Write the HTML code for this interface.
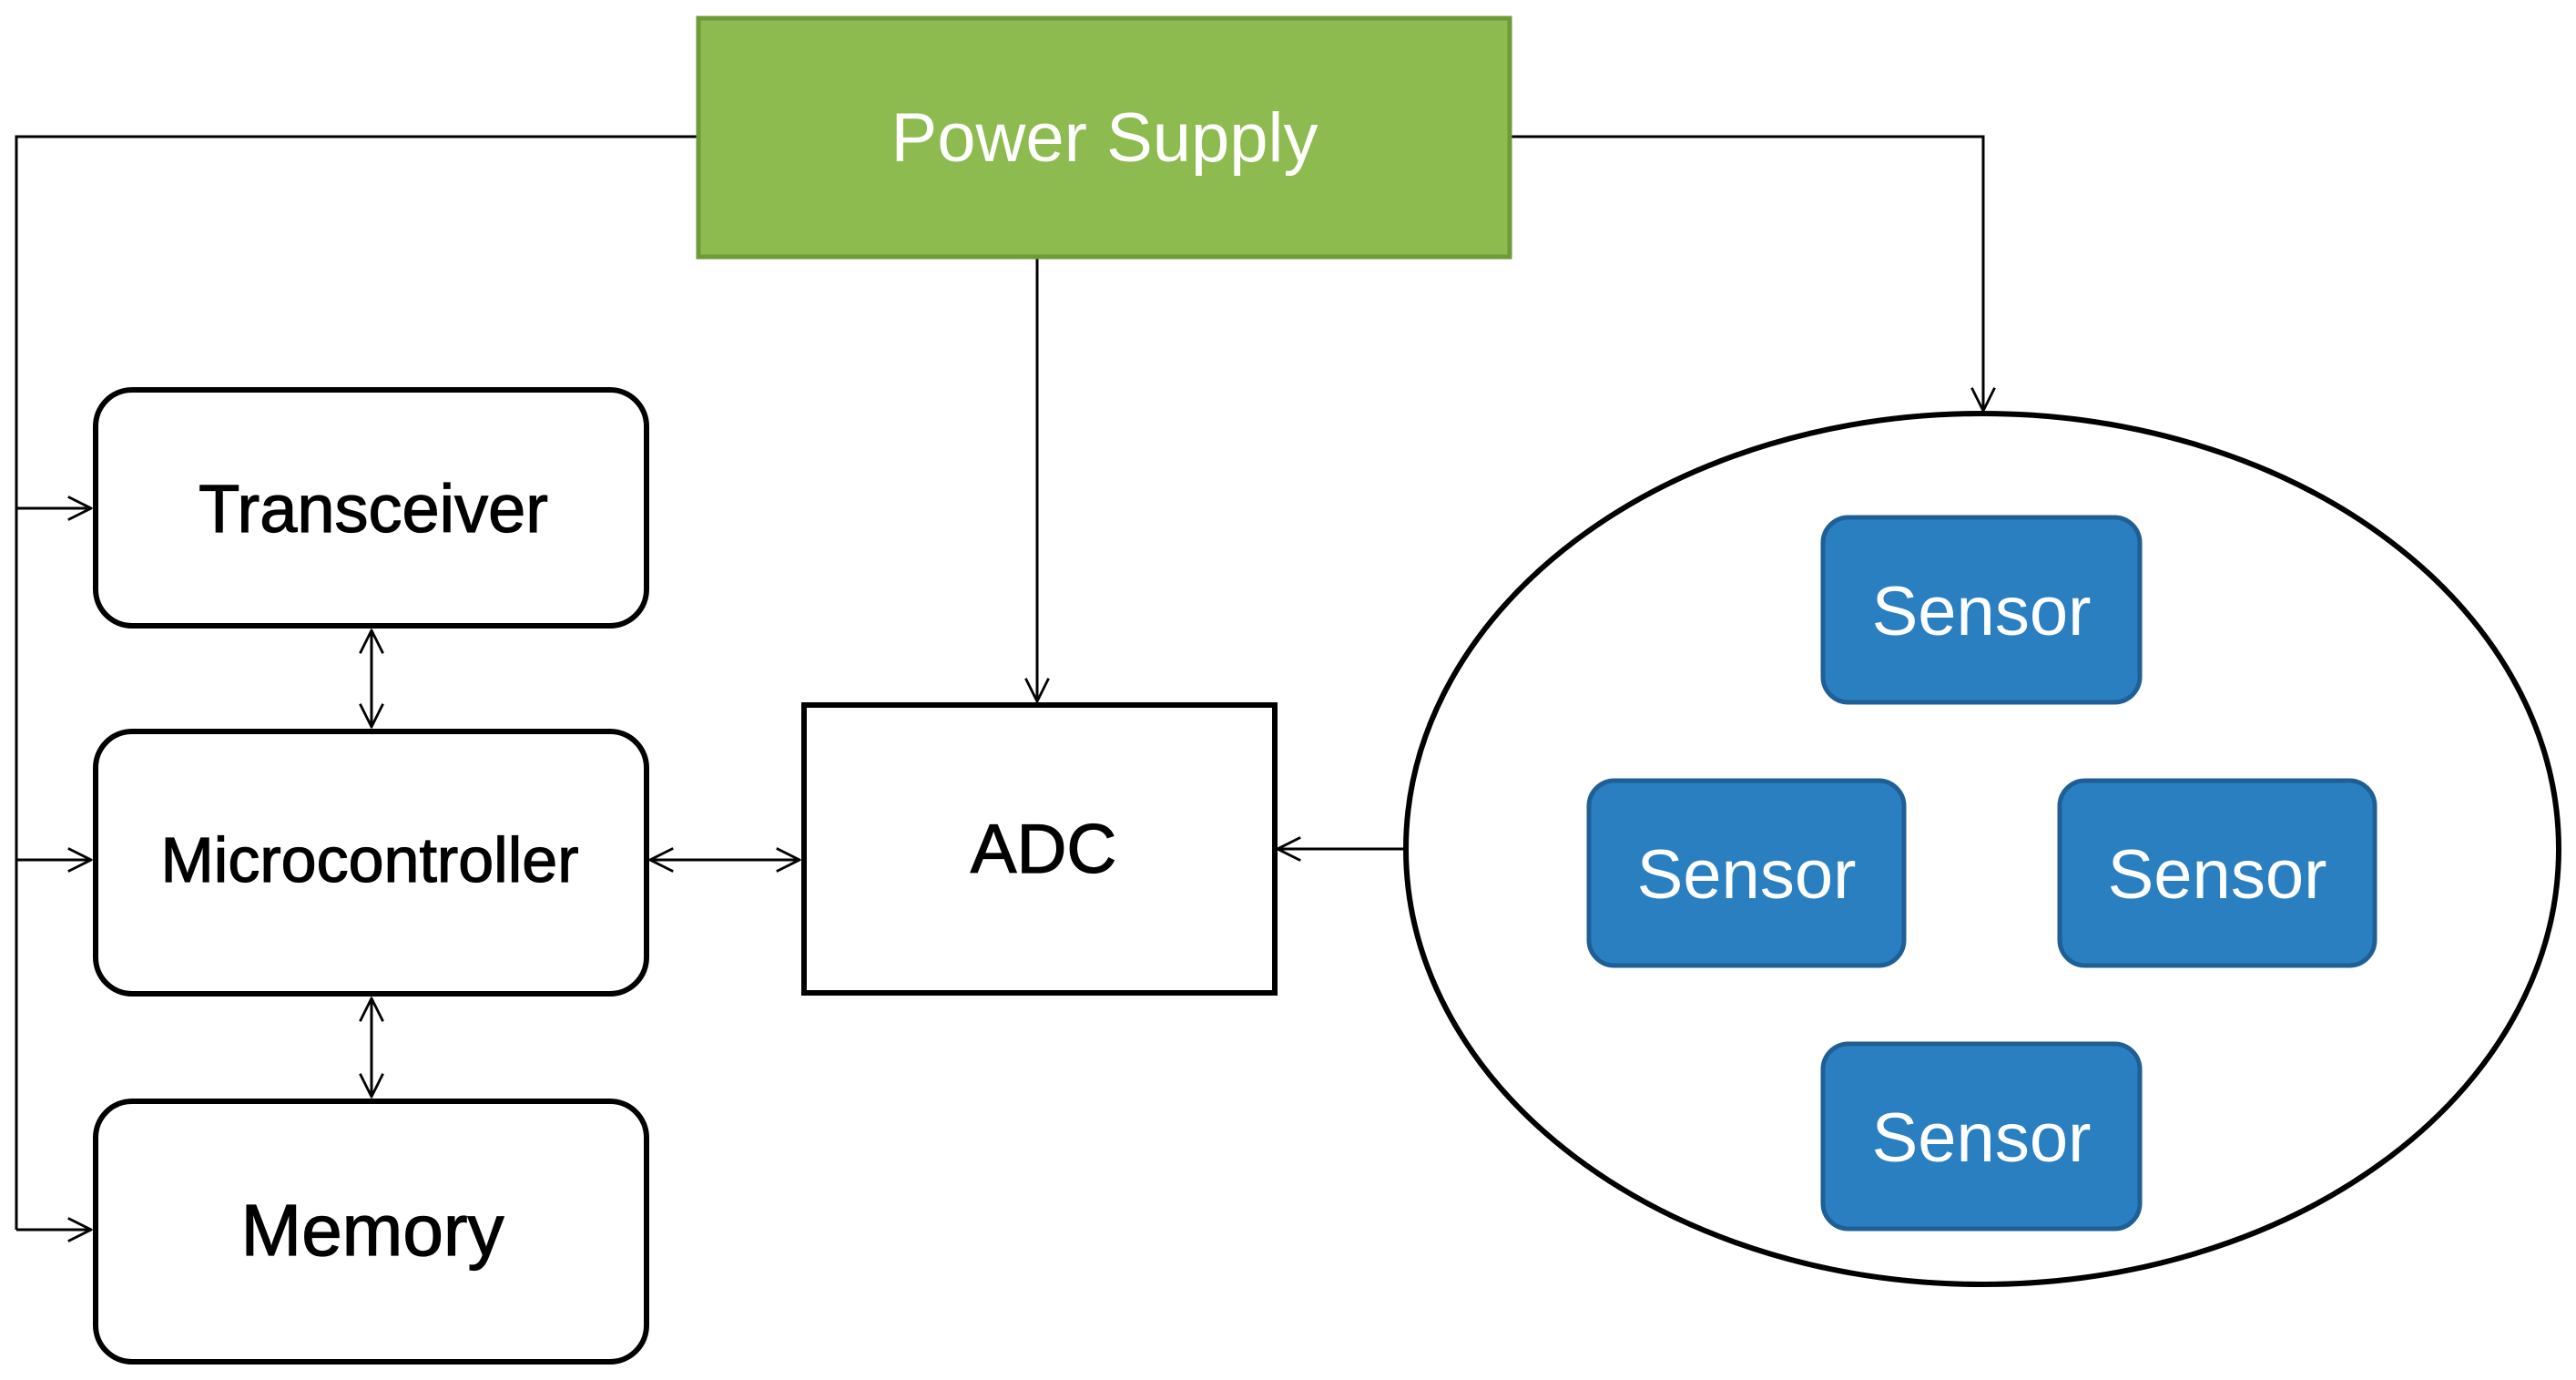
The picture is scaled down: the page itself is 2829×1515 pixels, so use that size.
<!DOCTYPE html>
<html><head><meta charset="utf-8"><style>
html,body{margin:0;padding:0;background:#fff;}
svg{display:block;}
text{font-family:"Liberation Sans",sans-serif;}
</style></head><body>
<svg width="2829" height="1515" viewBox="0 0 2829 1515" xmlns="http://www.w3.org/2000/svg">
<defs>
<marker id="a" viewBox="0 0 20 20" refX="19" refY="10" markerWidth="28" markerHeight="28" markerUnits="userSpaceOnUse" orient="auto-start-reverse">
<path d="M1 1 L19 10 L1 19" fill="none" stroke="#000" stroke-width="2"/>
</marker>
</defs>
<g fill="none" stroke="#000" stroke-width="3">
<polyline points="765,150 18,150 18,1350"/>
<line x1="18" y1="558" x2="100" y2="558" marker-end="url(#a)"/>
<line x1="18" y1="944" x2="100" y2="944" marker-end="url(#a)"/>
<line x1="18" y1="1350" x2="100" y2="1350" marker-end="url(#a)"/>
<polyline points="1658,150 2178,150 2178,451" marker-end="url(#a)"/>
<line x1="1139" y1="284" x2="1139" y2="770" marker-end="url(#a)"/>
<line x1="408" y1="692" x2="408" y2="798" marker-start="url(#a)" marker-end="url(#a)"/>
<line x1="408" y1="1096" x2="408" y2="1204" marker-start="url(#a)" marker-end="url(#a)"/>
<line x1="714" y1="944" x2="878" y2="944" marker-start="url(#a)" marker-end="url(#a)"/>
<line x1="1542" y1="932" x2="1403" y2="932" marker-end="url(#a)"/>
</g>
<rect x="767" y="20" width="891" height="262" fill="#8DBB4F" stroke="#6E9A3A" stroke-width="5"/>
<text x="1213" y="177" font-size="76" fill="#fff" text-anchor="middle">Power Supply</text>
<g fill="#fff" stroke="#000" stroke-width="6">
<rect x="105" y="428" width="605" height="259" rx="40"/>
<rect x="105" y="803" width="605" height="288" rx="40"/>
<rect x="105" y="1209" width="605" height="286" rx="40"/>
<rect x="883" y="774" width="517" height="316"/>
<ellipse cx="2177" cy="932" rx="633" ry="478"/>
</g>
<g fill="#000" stroke="#000" stroke-width="1.2" text-anchor="middle">
<text x="410" y="584" font-size="74">Transceiver</text>
<text x="406" y="968" font-size="70">Microcontroller</text>
<text x="409" y="1378" font-size="80">Memory</text>
<text x="1146" y="958" font-size="76">ADC</text>
</g>
<g fill="#2A7FC1" stroke="#1F5F96" stroke-width="5">
<rect x="2002" y="568" width="348" height="203" rx="28"/>
<rect x="1745" y="857" width="346" height="203" rx="28"/>
<rect x="2262" y="857" width="346" height="203" rx="28"/>
<rect x="2002" y="1146" width="348" height="203" rx="28"/>
</g>
<g font-size="76" fill="#fff" text-anchor="middle">
<text x="2176" y="697">Sensor</text>
<text x="1918" y="986">Sensor</text>
<text x="2435" y="986">Sensor</text>
<text x="2176" y="1275">Sensor</text>
</g>
</svg>
</body></html>
